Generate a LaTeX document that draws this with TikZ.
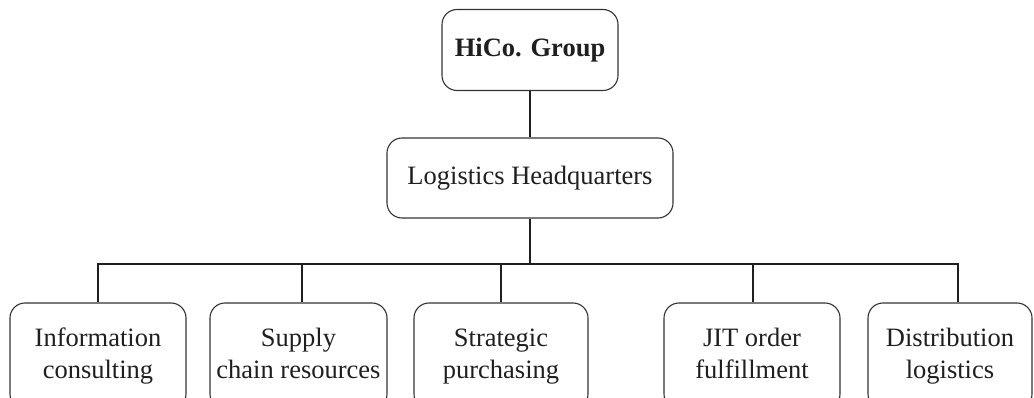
\documentclass[tikz,border=0pt]{standalone}
\usepackage{fontspec}
\setmainfont{Liberation Serif}

\begin{document}
\begin{tikzpicture}[x=1pt, y=-1pt, every node/.style={font=\fontsize{26.5}{31.6}\selectfont, text=black!88},
  unit/.style={draw=black!80, line width=1.1pt, rounded corners=15pt, align=center, inner sep=0pt},
  dept/.style={unit, minimum height=106pt},
  link/.style={draw=black!88, line width=2.8pt}]
\clip (0,0) rectangle (1034,398);
\node[unit,minimum width=176pt,minimum height=81pt] (group) at (530,50) {\textbf{HiCo. Group}};
\node[unit,minimum width=286pt,minimum height=80pt] (hq) at (530,178) {Logistics Headquarters};
\node[dept,minimum width=176pt] (info) at (98,356) {\strut Information\\consulting\strut};
\node[dept,minimum width=177pt] (supply) at (298.5,356) {\strut Supply\\chain resources\strut};
\node[dept,minimum width=174pt] (purch) at (501,356) {\strut Strategic\\purchasing\strut};
\node[dept,minimum width=176pt] (jit) at (752,356) {\strut JIT order\\fulfillment\strut};
\node[dept,minimum width=164pt] (distr) at (950,356) {\strut Distribution\\logistics\strut};
% bus joints
\coordinate (bus) at (530,264);
\coordinate (j1) at (98,264); \coordinate (j2) at (302,264); \coordinate (j3) at (501,264);
\coordinate (j4) at (753,264); \coordinate (j5) at (958,264);
\draw[link] (group) -- (hq);
\draw[link] (hq.south) -- (bus);
\draw[link,line cap=rect] (j1) -- (j5);
\foreach \j/\b in {j1/info, j2/supply, j3/purch, j4/jit, j5/distr}
  \draw[link] (\j) -- (\j |- \b.north);
\end{tikzpicture}
\end{document}
